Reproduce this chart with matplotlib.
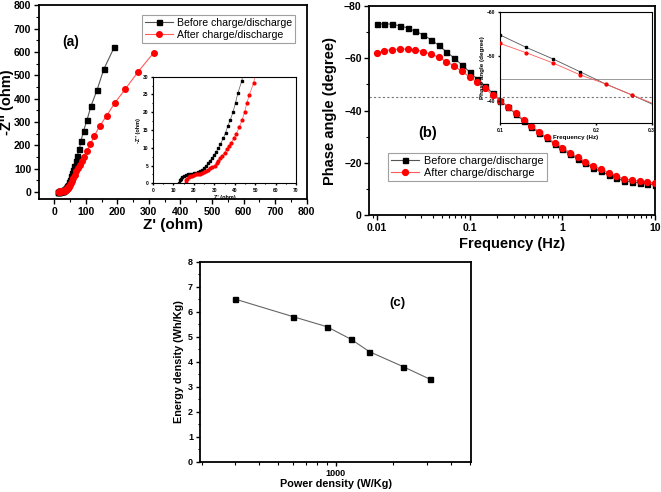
import matplotlib
matplotlib.use("Agg")
import matplotlib.pyplot as plt
from matplotlib.ticker import MultipleLocator, FixedLocator, NullLocator, LogLocator, NullFormatter, FixedFormatter

plt.rcParams['font.family'] = ['Liberation Sans', 'DejaVu Sans']

# ---------------- data: panel (a) Nyquist ----------------
before_zr = [12.7, 13.0, 13.5, 14.2, 15.0, 16.0, 17.0, 18.0, 19.0, 20.0, 21.0, 22.0, 23.0, 24.0, 25.0,
             26.0, 27.0, 28.0, 29.0, 30.0, 31.0, 32.0, 33.0, 34.4, 35.5, 36.6, 37.8, 39.2, 40.4, 41.5,
             43.5, 46.7, 49.8, 53.0, 56.2, 59.4, 63.6, 69.0, 73.0, 80.0, 85.0, 93.0, 104.0, 117.0,
             136.0, 157.0, 191.0]
before_zi = [0.0, 0.8, 1.3, 1.7, 2.0, 2.3, 2.5, 2.6, 2.7, 2.8, 2.9, 3.1, 3.4, 3.8, 4.3,
             4.9, 5.6, 6.4, 7.2, 8.0, 8.9, 9.9, 11.0, 12.7, 14.2, 16.1, 17.8, 20.1, 22.7, 25.3,
             28.9, 41.0, 53.0, 67.0, 81.0, 95.0, 112.0, 132.0, 155.0, 184.0, 219.0, 261.0, 308.0, 369.0,
             437.0, 525.0, 622.0]
after_zr = [16.0, 16.3, 16.8, 17.4, 18.2, 19.0, 20.0, 21.0, 22.0, 23.0, 24.0, 25.0, 26.0, 27.0, 28.0,
            29.0, 30.1, 31.1, 32.0, 33.0, 34.0, 35.0, 36.0, 37.1, 38.3, 39.6, 40.7, 42.3, 43.6, 44.8,
            45.9, 47.1, 49.3, 52.0, 56.0, 60.0, 65.0, 70.0, 75.0, 81.0, 87.0, 94.0, 104.0, 115.0,
            127.0, 144.0, 166.0, 193.0, 226.0, 266.0, 315.0]
after_zi = [0.0, 0.8, 1.3, 1.7, 2.0, 2.2, 2.4, 2.5, 2.6, 2.7, 2.9, 3.1, 3.4, 3.8, 4.2,
            4.6, 5.0, 5.6, 6.4, 7.1, 7.8, 8.6, 9.6, 10.5, 11.4, 12.7, 13.9, 15.9, 17.8, 20.0,
            22.5, 24.8, 28.3, 37.0, 48.0, 60.0, 74.0, 88.0, 101.0, 115.0, 132.0, 152.0, 176.0, 206.0,
            240.0, 282.0, 326.0, 383.0, 442.0, 515.0, 596.0]

# ---------------- data: panel (b) Bode phase ----------------
freq = [0.01, 0.0121, 0.0147, 0.0178, 0.0215, 0.0261, 0.0316, 0.0383, 0.0464, 0.0562, 0.0681, 0.0825,
        0.1, 0.121, 0.147, 0.178, 0.215, 0.261, 0.316, 0.383, 0.464, 0.562, 0.681, 0.825,
        1.0, 1.21, 1.47, 1.78, 2.15, 2.61, 3.16, 3.83, 4.64, 5.62, 6.81, 8.25, 10.0]
phase_before = [-73.0, -73.2, -73.0, -72.4, -71.6, -70.3, -69.0, -67.1, -65.0, -62.5, -60.1, -57.5,
                -54.8, -52.0, -49.4, -46.6, -43.8, -41.3, -38.6, -36.0, -33.7, -31.5, -29.4, -27.2,
                -25.1, -23.3, -21.4, -19.8, -18.0, -16.7, -15.4, -14.2, -13.1, -12.7, -12.3, -11.9, -11.6]
phase_after = [-62.1, -62.9, -63.3, -63.5, -63.5, -63.3, -62.5, -61.7, -60.4, -58.7, -57.1, -55.0,
               -52.9, -50.8, -48.5, -45.9, -43.8, -41.3, -38.9, -36.4, -34.1, -31.9, -29.7, -27.7,
               -25.8, -23.9, -22.1, -20.4, -18.8, -17.5, -16.2, -14.9, -13.8, -13.4, -13.0, -12.6, -12.2]

# ---------------- data: panel (c) Ragone ----------------
power_density = [300, 600, 900, 1200, 1500, 2250, 3100]
energy_density = [6.5, 5.8, 5.4, 4.9, 4.4, 3.8, 3.3]

labels = ["Before charge/discharge", "After charge/discharge"]

BLK_LINE = "#555555"
RED_LINE = "#ff5a5a"

fig = plt.figure(figsize=(6.61, 4.92), dpi=100)


def style_axes(ax, lw=1.3, size=8, major=3.5, minor=2):
    for s in ax.spines.values():
        s.set_linewidth(lw)
    ax.tick_params(which='major', direction='out', length=major, width=1.0, labelsize=size,
                   top=False, right=False, pad=2)
    ax.tick_params(which='minor', direction='out', length=minor, width=0.8, top=False, right=False)
    for t in ax.get_xticklabels() + ax.get_yticklabels():
        t.set_fontweight('bold')


# ======== panel (a) ========
axa = fig.add_axes([0.059, 0.5955, 0.405, 0.394])
axa.plot(before_zr, before_zi, '-s', color=BLK_LINE, lw=0.8, ms=3.6, mfc='k', mec='k', label=labels[0])
axa.plot(after_zr, after_zi, '-o', color=RED_LINE, lw=0.8, ms=4.0, mfc='#ff0000', mec='#ff0000', label=labels[1])
axa.set_xlim(-48, 800)
axa.set_ylim(-30, 800)
axa.xaxis.set_major_locator(MultipleLocator(100))
axa.xaxis.set_minor_locator(MultipleLocator(50))
axa.yaxis.set_major_locator(MultipleLocator(100))
axa.yaxis.set_minor_locator(MultipleLocator(50))
style_axes(axa, size=7.5)
axa.set_xlabel("Z' (ohm)", fontsize=11, fontweight='bold', labelpad=1)
axa.set_ylabel("-Z'' (ohm)", fontsize=10.5, fontweight='bold', labelpad=0)
axa.text(51, 642, "(a)", fontsize=10, fontweight='bold', ha='center', va='center')
lega = axa.legend(loc='upper left', bbox_to_anchor=(142 / 661, 1 - 15 / 492), bbox_transform=fig.transFigure,
                  fontsize=7.6, frameon=True, fancybox=False, edgecolor='#888888', borderpad=0.3,
                  labelspacing=0.15, handlelength=2.6, handletextpad=0.4, borderaxespad=0)
lega.get_frame().set_linewidth(0.8)

# inset (a)
axai = fig.add_axes([0.2315, 0.6274, 0.2163, 0.2167])
axai.plot(before_zr, before_zi, '-s', color=BLK_LINE, lw=0.5, ms=1.8, mfc='k', mec='k')
axai.plot(after_zr, after_zi, '-o', color=RED_LINE, lw=0.5, ms=2.0, mfc='#ff0000', mec='#ff0000')
axai.set_xlim(0, 70)
axai.set_ylim(0, 30)
axai.xaxis.set_major_locator(MultipleLocator(10))
axai.xaxis.set_minor_locator(MultipleLocator(5))
axai.yaxis.set_major_locator(MultipleLocator(5))
axai.yaxis.set_minor_locator(MultipleLocator(2.5))
style_axes(axai, lw=0.8, size=3.5, major=1.5, minor=0.8)
axai.set_xlabel("Z' (ohm)", fontsize=4, fontweight='bold', labelpad=1)
axai.set_ylabel("-Z'' (ohm)", fontsize=4, fontweight='bold', labelpad=1)

# ======== panel (b) ========
axb = fig.add_axes([0.5587, 0.563, 0.4322, 0.4248])
axb.axhline(-45, color='#777777', lw=0.8, ls=(0, (2, 2)), zorder=1)
axb.plot(freq, phase_before, '-s', color=BLK_LINE, lw=0.8, ms=3.6, mfc='k', mec='k', label=labels[0], zorder=3)
axb.plot(freq, phase_after, '-o', color=RED_LINE, lw=0.8, ms=4.2, mfc='#ff0000', mec='#ff0000', label=labels[1], zorder=4)
axb.set_xscale('log')
axb.set_xlim(0.0083, 10)
axb.set_ylim(0, -80)
axb.xaxis.set_major_locator(FixedLocator([0.01, 0.1, 1, 10]))
axb.xaxis.set_major_formatter(FixedFormatter(["0.01", "0.1", "1", "10"]))
axb.xaxis.set_minor_locator(LogLocator(base=10, subs=range(2, 10)))
axb.xaxis.set_minor_formatter(NullFormatter())
axb.yaxis.set_major_locator(MultipleLocator(20))
axb.yaxis.set_minor_locator(MultipleLocator(10))
style_axes(axb, size=7.5)
axb.set_xlabel("Frequency (Hz)", fontsize=10.5, fontweight='bold', labelpad=3)
axb.set_ylabel("Phase angle (degree)", fontsize=10.5, fontweight='bold', labelpad=5)
axb.text(0.0355, -31.5, "(b)", fontsize=10.5, fontweight='bold', ha='center', va='center')
legb = axb.legend(loc='upper left', bbox_to_anchor=(388 / 661, 1 - 153 / 492), bbox_transform=fig.transFigure,
                  fontsize=7.8, frameon=True, fancybox=False, edgecolor='#888888', borderpad=0.3,
                  labelspacing=0.15, handlelength=2.6, handletextpad=0.4, borderaxespad=0)
legb.get_frame().set_linewidth(0.8)

# inset (b)
axbi = fig.add_axes([0.7564, 0.7494, 0.2295, 0.2268])
axbi.patch.set_alpha(0)
axbi.axhline(-45, color='#999999', lw=0.7, zorder=1)
axbi.plot(freq, phase_before, '-s', color=BLK_LINE, lw=0.6, ms=2.0, mfc='k', mec='k', zorder=3)
axbi.plot(freq, phase_after, '-o', color=RED_LINE, lw=0.6, ms=2.0, mfc='#ff0000', mec='#ff0000', zorder=4)
axbi.set_xscale('log')
axbi.set_xlim(0.1, 0.3)
axbi.set_ylim(-35, -60)
axbi.xaxis.set_major_locator(FixedLocator([0.1, 0.2, 0.3]))
axbi.xaxis.set_major_formatter(FixedFormatter(["0.1", "0.2", "0.3"]))
axbi.xaxis.set_minor_locator(NullLocator())
axbi.yaxis.set_major_locator(FixedLocator([-60, -50, -40]))
axbi.yaxis.set_minor_locator(NullLocator())
style_axes(axbi, lw=0.8, size=3.5, major=1.5, minor=0.8)
axbi.set_xlabel("Frequency (Hz)", fontsize=4.5, fontweight='bold', labelpad=1)
axbi.set_ylabel("Phase angle (degree)", fontsize=4.5, fontweight='bold', labelpad=1)

# ======== panel (c) ========
axc = fig.add_axes([0.3026, 0.0616, 0.41, 0.4065])
axc.plot(power_density, energy_density, '-s', color='#666666', lw=0.8, ms=3.6, mfc='k', mec='k')
axc.set_xscale('log')
axc.set_xlim(196, 5080)
axc.set_ylim(0, 8)
axc.xaxis.set_major_locator(FixedLocator([1000]))
axc.xaxis.set_major_formatter(FixedFormatter(["1000"]))
axc.xaxis.set_minor_locator(LogLocator(base=10, subs=range(2, 10)))
axc.xaxis.set_minor_formatter(NullFormatter())
axc.yaxis.set_major_locator(MultipleLocator(1))
axc.yaxis.set_minor_locator(MultipleLocator(0.5))
style_axes(axc, size=6.5, major=3, minor=1.8)
axc.set_xlabel("Power density (W/Kg)", fontsize=7.8, fontweight='bold', labelpad=1)
axc.set_ylabel("Energy density (Wh/Kg)", fontsize=7.8, fontweight='bold', labelpad=3)
axc.text(2105, 6.33, "(c)", fontsize=9.5, fontweight='bold', ha='center', va='center')

fig.savefig("out.png", dpi=100)
